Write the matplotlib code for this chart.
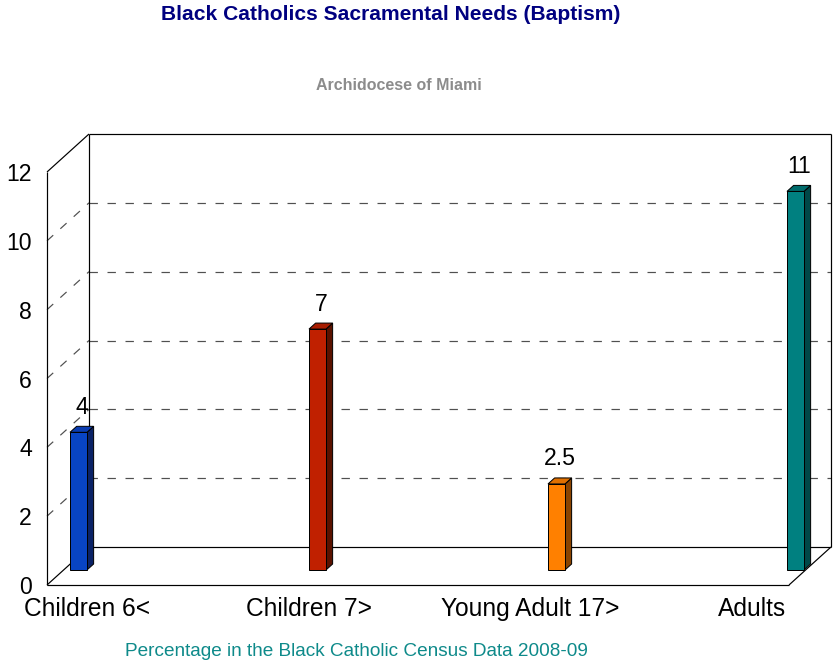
import matplotlib
matplotlib.use("Agg")
import matplotlib.pyplot as plt
from matplotlib.patches import Polygon
import numpy as np

plt.rcParams['font.family'] = ['Liberation Sans', 'DejaVu Sans']

# Data
categories = ["Children 6<", "Children 7>", "Young Adult 17>", "Adults"]
values = [4, 7, 2.5, 11]
value_labels = ["4", "7", "2.5", "11"]
front_colors = ["#0844c4", "#c02000", "#ff8000", "#008080"]
side_colors = ["#0a2266", "#5a1200", "#8a4400", "#004848"]
top_colors = ["#0a3cb0", "#a81c00", "#e07000", "#006c6c"]
y_ticks = [0, 2, 4, 6, 8, 10, 12]

W, H = 833, 665
DPI = 72
fig = plt.figure(figsize=(W / DPI, H / DPI), dpi=DPI, facecolor="white")

# Front plane of the 3-D box in pixels
fx0, fx1, fy0, fy1 = 47, 789, 585, 172
ax = fig.add_axes([fx0 / W, 1 - fy0 / H, (fx1 - fx0) / W, (fy0 - fy1) / H])
ax.set_facecolor("none")

unit_px = 239.0                       # pixels per category step
px_per_y = (fy0 - fy1) / 12.0
xmin = -(61.9 - fx0) / unit_px
xmax = xmin + (fx1 - fx0) / unit_px
ax.set_xlim(xmin, xmax)
ax.set_ylim(0, 12)

# Depth vector of the box (back plane offset), in data units
DX = 42 / unit_px
DY = 38 / px_per_y

line_kw = dict(color="black", lw=1.2, solid_capstyle="butt", clip_on=False)
grid_kw = dict(color="#505050", lw=1.2, dashes=(7, 8), clip_on=False)

# Dashed grid on back wall and left wall
for t in y_ticks[1:-1]:
    ax.plot([xmin + DX, xmax + DX], [t + DY, t + DY], **grid_kw, zorder=1)
    ax.plot([xmin, xmin + DX], [t, t + DY], **grid_kw, zorder=1)

# Box outline
ax.plot([xmin + DX, xmax + DX], [12 + DY, 12 + DY], **line_kw, zorder=2)
ax.plot([xmin + DX, xmax + DX], [DY, DY], **line_kw, zorder=2)
ax.plot([xmin + DX, xmin + DX], [DY, 12 + DY], **line_kw, zorder=2)
ax.plot([xmax + DX, xmax + DX], [DY, 12 + DY], **line_kw, zorder=2)
ax.plot([xmin, xmin], [0, 12], **line_kw, zorder=2)
ax.plot([xmin, xmin + DX], [12, 12 + DY], **line_kw, zorder=2)
ax.plot([xmin, xmin + DX], [0, DY], **line_kw, zorder=2)
ax.plot([xmax, xmax + DX], [0, DY], **line_kw, zorder=2)
ax.plot([xmin, xmax], [0, 0], **line_kw, zorder=2)

# 3-D bars
f1, f2 = 0.395, 0.395 + 6 / 38
hw = 8.5 / unit_px
for i, v in enumerate(values):
    c = i
    xl, xr = c - hw, c + hw
    front = [(xl + f1 * DX, f1 * DY), (xr + f1 * DX, f1 * DY),
             (xr + f1 * DX, v + f1 * DY), (xl + f1 * DX, v + f1 * DY)]
    side = [(xr + f1 * DX, f1 * DY), (xr + f2 * DX, f2 * DY),
            (xr + f2 * DX, v + f2 * DY), (xr + f1 * DX, v + f1 * DY)]
    top = [(xl + f1 * DX, v + f1 * DY), (xr + f1 * DX, v + f1 * DY),
           (xr + f2 * DX, v + f2 * DY), (xl + f2 * DX, v + f2 * DY)]
    for pts, col in ((side, side_colors[i]), (top, top_colors[i]), (front, front_colors[i])):
        ax.add_patch(Polygon(pts, closed=True, facecolor=col, edgecolor="black",
                             lw=1.0, zorder=3, clip_on=False))
    ax.annotate(value_labels[i], (c + (f1 + f2) / 2 * DX, v + f2 * DY),
                xytext=(0, 19), textcoords="offset points",
                ha="center", va="center", fontsize=23, color="black",
                zorder=4, annotation_clip=False)

# Axes ticks and labels
ax.set_yticks(y_ticks)
ax.set_yticklabels([str(t) for t in y_ticks], fontsize=23)
label_pos = np.linspace((87 - 61.9) / unit_px, (752 - 61.9) / unit_px, len(categories))
ax.set_xticks(label_pos)
ax.set_xticklabels(categories, fontsize=24.5)
ax.tick_params(axis="y", length=0, pad=15)
ax.tick_params(axis="x", length=0, pad=12)
for s in ax.spines.values():
    s.set_visible(False)

# Titles
fig.text(391 / W, 1 - 15 / H, "Black Catholics Sacramental Needs (Baptism)",
         ha="center", va="center", fontsize=21, fontweight="bold", color="#000080")
fig.text(399 / W, 1 - 85 / H, "Archidocese of Miami",
         ha="center", va="center", fontsize=16, fontweight="bold", color="#8c8c8c")
fig.text(356 / W, 1 - 652 / H, "Percentage in the Black Catholic Census Data 2008-09",
         ha="center", va="center", fontsize=19, color="#0e8a8a")

fig.savefig("out.png", dpi=DPI, facecolor="white")
